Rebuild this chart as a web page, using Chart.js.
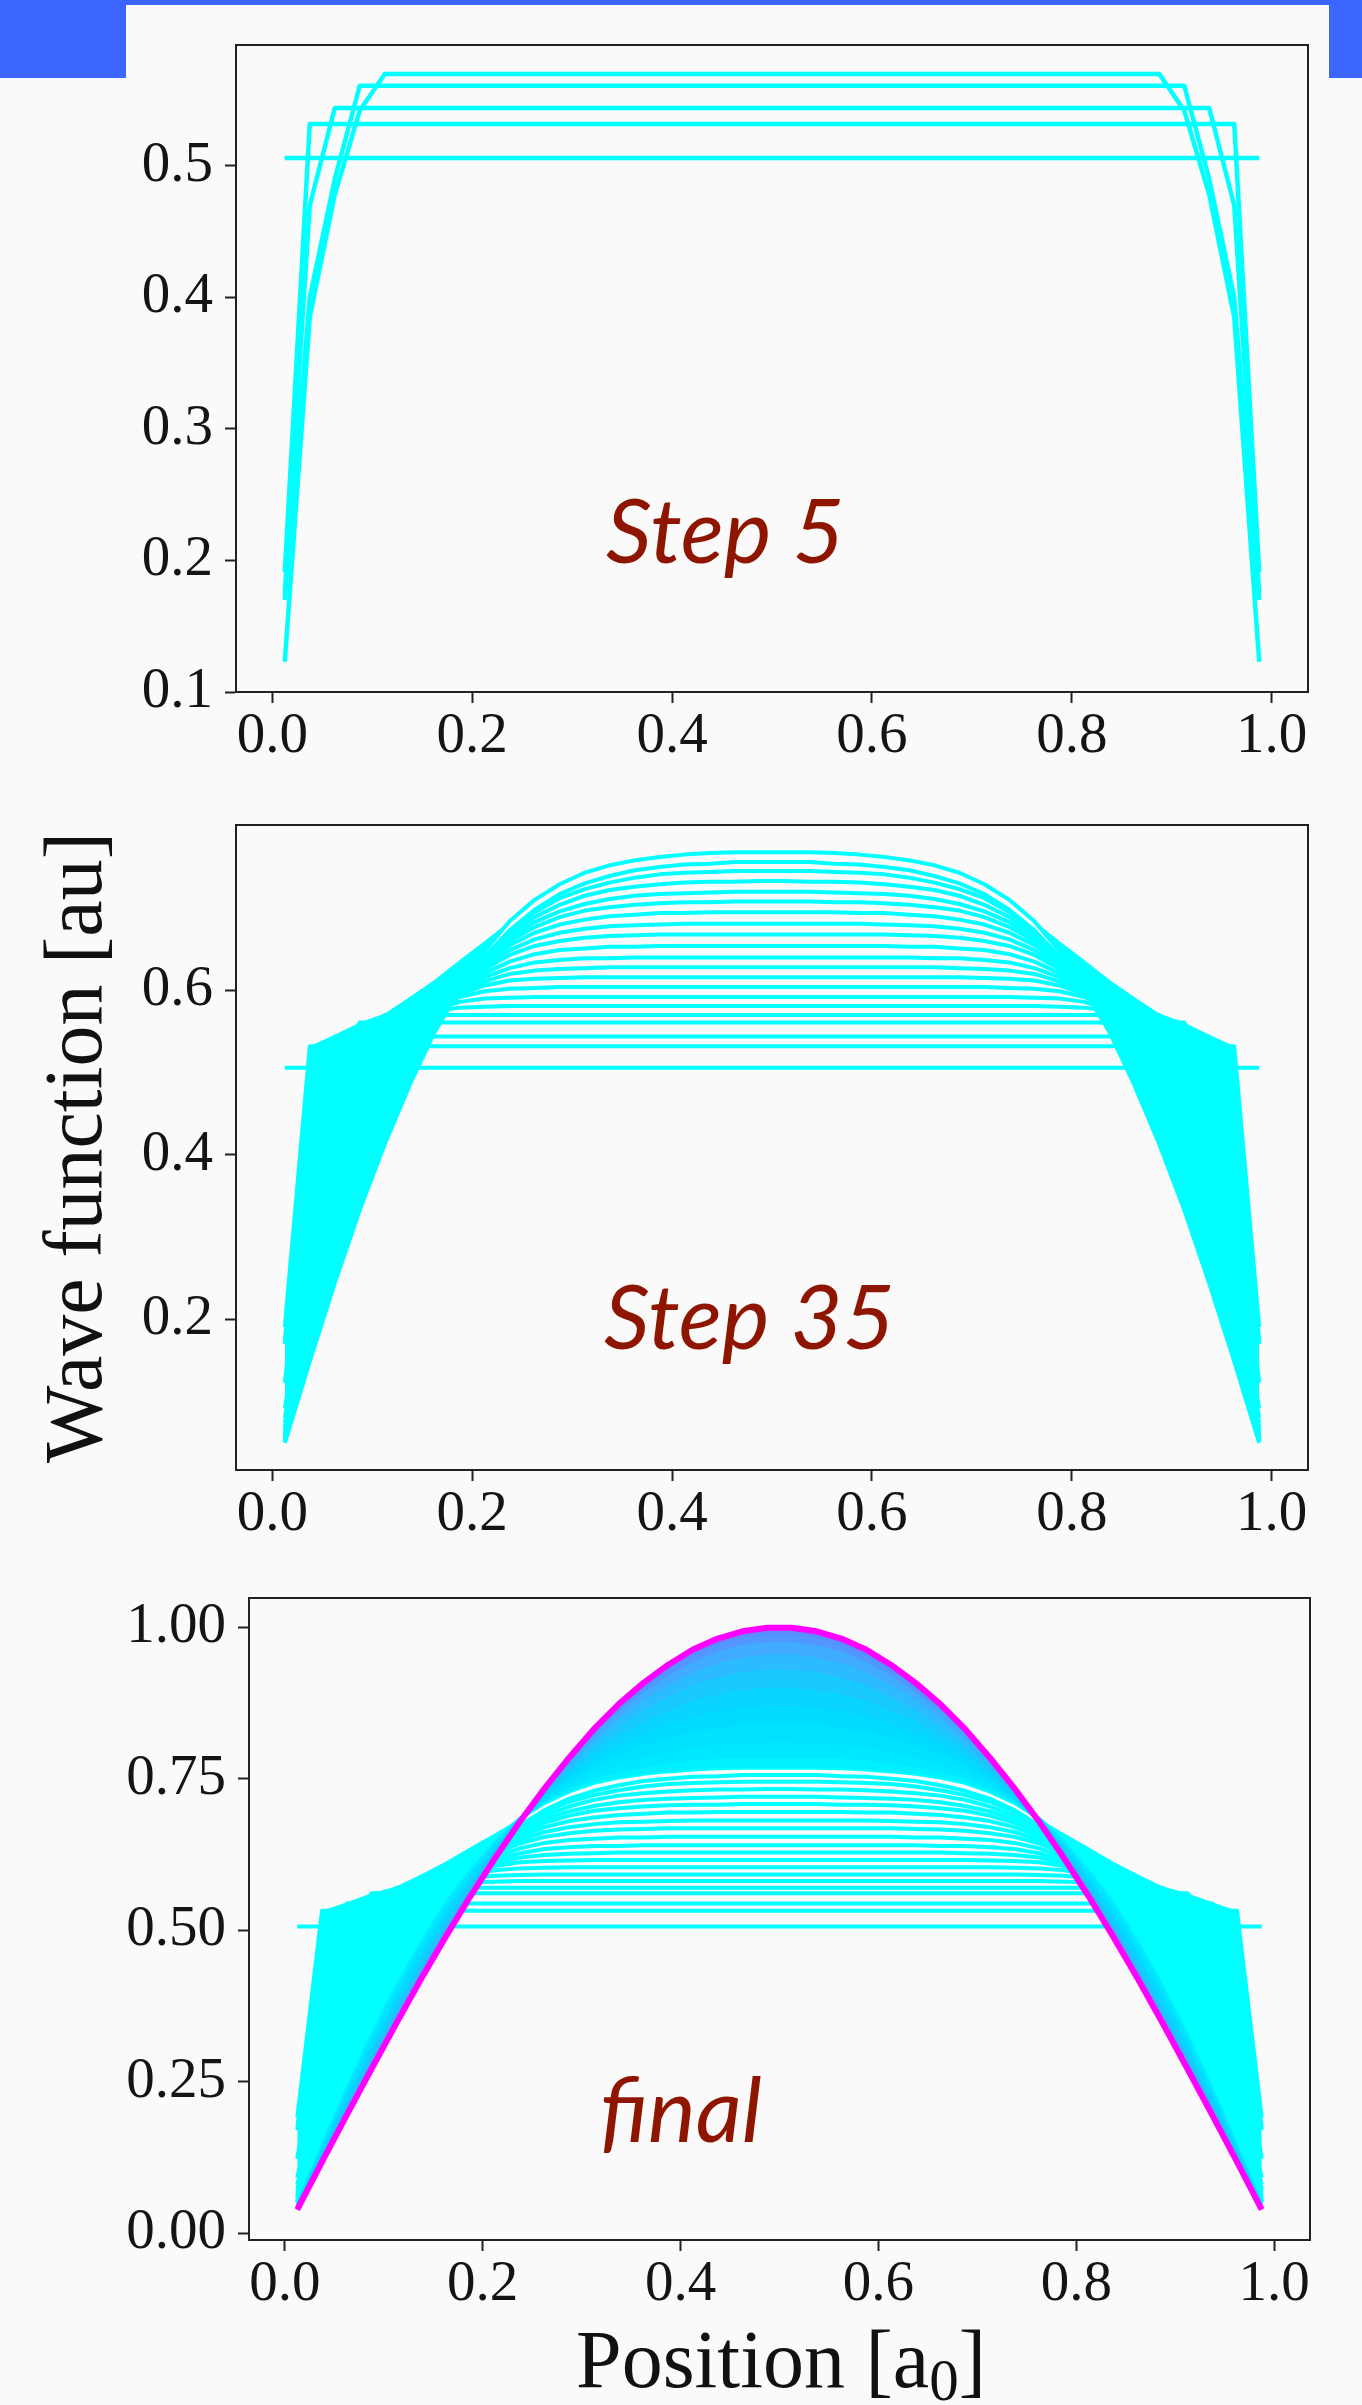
<!DOCTYPE html>
<html>
<head>
<meta charset="utf-8">
<script src="https://cdn.jsdelivr.net/npm/chart.js@4.4.1/dist/chart.umd.min.js"></script>
<style>
  html, body { margin: 0; padding: 0; }
  body { width: 1362px; height: 2405px; background: #fafafa; position: relative; overflow: hidden; }
  .band { position: absolute; background: #3b66ff; }
  canvas { position: absolute; left: 0; display: block; }
  #xlabel { position: absolute; left: 381px; top: 2319px; width: 800px; text-align: center;
            font-family: 'Liberation Serif', serif; font-size: 82px; line-height: 1; color: #111; }
  #xlabel sub { font-size: 0.72em; vertical-align: baseline; position: relative; top: 0.22em; }
</style>
</head>
<body>
<div class="band" style="left:0;top:0;width:1362px;height:5px"></div>
<div class="band" style="left:0;top:0;width:126px;height:78px"></div>
<div class="band" style="left:1329px;top:0;width:33px;height:78px"></div>

<canvas id="step5" width="1362" height="790" style="top:0"></canvas>
<canvas id="step35" width="1362" height="780" style="top:790px"></canvas>
<canvas id="final" width="1362" height="835" style="top:1570px"></canvas>
<div id="xlabel">Position [a<sub>0</sub>]</div>

<script>
// grid positions [a0]
const position = [0.0125, 0.0375, 0.0625, 0.0875, 0.1125, 0.1375, 0.1625, 0.1875, 0.2125, 0.2375,
                  0.2625, 0.2875, 0.3125, 0.3375, 0.3625, 0.3875, 0.4125, 0.4375, 0.4625, 0.4875,
                  0.5125, 0.5375, 0.5625, 0.5875, 0.6125, 0.6375, 0.6625, 0.6875, 0.7125, 0.7375,
                  0.7625, 0.7875, 0.8125, 0.8375, 0.8625, 0.8875, 0.9125, 0.9375, 0.9625, 0.9875];

const xTicks = [0, 0.2, 0.4, 0.6, 0.8, 1.0];
const yTicksStep5 = [0.1, 0.2, 0.3, 0.4, 0.5];
const yTicksStep35 = [0.2, 0.4, 0.6];
const yTicksFinal = [0, 0.25, 0.5, 0.75, 1.0];

// Profiles are symmetric about x = 0.5, only the left half (x = 0.0125 ... 0.4875) is listed.
// steps 0-4
const earlySteps = [
  [0.506, 0.506, 0.506, 0.506, 0.506, 0.506, 0.506, 0.506, 0.506, 0.506, 0.506, 0.506, 0.506, 0.506, 0.506, 0.506, 0.506, 0.506, 0.506, 0.506],
  [0.191, 0.532, 0.532, 0.532, 0.532, 0.532, 0.532, 0.532, 0.532, 0.532, 0.532, 0.532, 0.532, 0.532, 0.532, 0.532, 0.532, 0.532, 0.532, 0.532],
  [0.175, 0.470, 0.544, 0.544, 0.544, 0.544, 0.544, 0.544, 0.544, 0.544, 0.544, 0.544, 0.544, 0.544, 0.544, 0.544, 0.544, 0.544, 0.544, 0.544],
  [0.170, 0.400, 0.490, 0.561, 0.561, 0.561, 0.561, 0.561, 0.561, 0.561, 0.561, 0.561, 0.561, 0.561, 0.561, 0.561, 0.561, 0.561, 0.561, 0.561],
  [0.123, 0.385, 0.478, 0.542, 0.570, 0.570, 0.570, 0.570, 0.570, 0.570, 0.570, 0.570, 0.570, 0.570, 0.570, 0.570, 0.570, 0.570, 0.570, 0.570]
];

// steps ~6 ... 35 (last row is step 35)
const middleSteps = [
  [0.092, 0.261, 0.395, 0.485, 0.538, 0.564, 0.575, 0.579, 0.580, 0.581, 0.581, 0.581, 0.581, 0.581, 0.581, 0.581, 0.581, 0.581, 0.581, 0.581],
  [0.081, 0.234, 0.362, 0.457, 0.520, 0.557, 0.577, 0.586, 0.590, 0.591, 0.592, 0.592, 0.592, 0.592, 0.592, 0.592, 0.592, 0.592, 0.592, 0.592],
  [0.074, 0.216, 0.339, 0.435, 0.505, 0.550, 0.577, 0.592, 0.599, 0.602, 0.603, 0.604, 0.604, 0.604, 0.604, 0.604, 0.604, 0.604, 0.604, 0.604],
  [0.069, 0.202, 0.320, 0.417, 0.491, 0.542, 0.575, 0.595, 0.606, 0.612, 0.614, 0.615, 0.616, 0.616, 0.616, 0.616, 0.616, 0.616, 0.616, 0.616],
  [0.065, 0.192, 0.306, 0.402, 0.478, 0.533, 0.572, 0.597, 0.611, 0.620, 0.624, 0.626, 0.627, 0.628, 0.628, 0.628, 0.628, 0.628, 0.628, 0.628],
  [0.063, 0.184, 0.294, 0.390, 0.467, 0.526, 0.569, 0.598, 0.616, 0.627, 0.634, 0.637, 0.639, 0.639, 0.640, 0.640, 0.640, 0.640, 0.640, 0.640],
  [0.060, 0.177, 0.285, 0.380, 0.459, 0.521, 0.566, 0.599, 0.621, 0.635, 0.644, 0.649, 0.651, 0.653, 0.653, 0.654, 0.654, 0.654, 0.654, 0.654],
  [0.058, 0.172, 0.278, 0.372, 0.452, 0.516, 0.565, 0.601, 0.626, 0.643, 0.654, 0.660, 0.664, 0.666, 0.667, 0.668, 0.668, 0.668, 0.668, 0.668],
  [0.057, 0.168, 0.271, 0.364, 0.445, 0.510, 0.562, 0.601, 0.629, 0.649, 0.662, 0.670, 0.675, 0.678, 0.679, 0.680, 0.681, 0.681, 0.681, 0.681],
  [0.055, 0.164, 0.266, 0.359, 0.439, 0.507, 0.561, 0.602, 0.633, 0.655, 0.670, 0.680, 0.686, 0.690, 0.692, 0.694, 0.694, 0.695, 0.695, 0.695],
  [0.054, 0.161, 0.262, 0.354, 0.434, 0.503, 0.559, 0.602, 0.635, 0.660, 0.677, 0.689, 0.697, 0.701, 0.704, 0.706, 0.707, 0.707, 0.708, 0.708],
  [0.053, 0.158, 0.257, 0.348, 0.429, 0.498, 0.556, 0.602, 0.637, 0.663, 0.683, 0.696, 0.705, 0.711, 0.715, 0.717, 0.718, 0.719, 0.720, 0.720],
  [0.052, 0.155, 0.254, 0.344, 0.425, 0.495, 0.554, 0.602, 0.639, 0.668, 0.689, 0.704, 0.715, 0.722, 0.726, 0.729, 0.731, 0.732, 0.732, 0.733],
  [0.052, 0.153, 0.250, 0.340, 0.421, 0.492, 0.552, 0.602, 0.640, 0.671, 0.695, 0.712, 0.723, 0.731, 0.737, 0.741, 0.743, 0.744, 0.745, 0.745],
  [0.051, 0.151, 0.247, 0.336, 0.417, 0.489, 0.550, 0.600, 0.641, 0.673, 0.698, 0.717, 0.730, 0.739, 0.746, 0.750, 0.753, 0.754, 0.756, 0.756],
  [0.050, 0.149, 0.244, 0.333, 0.413, 0.485, 0.550, 0.602, 0.648, 0.684, 0.710, 0.729, 0.743, 0.752, 0.758, 0.762, 0.765, 0.767, 0.768, 0.768]
];

// upper edge of the dense bundle of curves near the walls
const fanEdge = [0.191, 0.532, 0.546, 0.561, 0.572, 0.592, 0.613, 0.637, 0.660, 0.684, 0.710, 0.729, 0.743, 0.752, 0.758, 0.762, 0.765, 0.767, 0.768, 0.768];

// steps after 35, converging to the ground state
const lateSteps = [
  [0.049, 0.147, 0.240, 0.328, 0.408, 0.480, 0.545, 0.599, 0.646, 0.684, 0.712, 0.733, 0.750, 0.761, 0.769, 0.775, 0.780, 0.783, 0.785, 0.785],
  [0.048, 0.143, 0.235, 0.322, 0.401, 0.473, 0.539, 0.594, 0.643, 0.683, 0.714, 0.739, 0.759, 0.774, 0.785, 0.794, 0.801, 0.806, 0.809, 0.810],
  [0.047, 0.139, 0.229, 0.314, 0.392, 0.465, 0.531, 0.588, 0.639, 0.682, 0.717, 0.746, 0.771, 0.790, 0.805, 0.817, 0.826, 0.833, 0.838, 0.840],
  [0.045, 0.135, 0.222, 0.306, 0.384, 0.456, 0.523, 0.582, 0.635, 0.682, 0.721, 0.754, 0.782, 0.805, 0.824, 0.839, 0.852, 0.861, 0.867, 0.870],
  [0.044, 0.131, 0.216, 0.298, 0.375, 0.447, 0.515, 0.576, 0.632, 0.681, 0.724, 0.761, 0.794, 0.821, 0.844, 0.862, 0.878, 0.889, 0.896, 0.900],
  [0.042, 0.127, 0.210, 0.290, 0.366, 0.439, 0.507, 0.570, 0.628, 0.681, 0.727, 0.768, 0.805, 0.837, 0.863, 0.885, 0.904, 0.917, 0.926, 0.930],
  [0.041, 0.124, 0.204, 0.283, 0.359, 0.432, 0.501, 0.565, 0.625, 0.680, 0.729, 0.774, 0.815, 0.850, 0.880, 0.905, 0.925, 0.940, 0.950, 0.955],
  [0.040, 0.121, 0.200, 0.277, 0.353, 0.426, 0.495, 0.561, 0.622, 0.680, 0.732, 0.779, 0.823, 0.861, 0.893, 0.920, 0.943, 0.960, 0.971, 0.976],
  [0.039, 0.119, 0.197, 0.274, 0.349, 0.422, 0.491, 0.558, 0.620, 0.679, 0.733, 0.783, 0.828, 0.868, 0.902, 0.931, 0.955, 0.972, 0.984, 0.990]
];

const groundState = [0.039, 0.118, 0.195, 0.271, 0.346, 0.419, 0.489, 0.556, 0.619, 0.679, 0.734, 0.785, 0.832, 0.873, 0.908, 0.938, 0.963, 0.981, 0.993, 0.999];

// styles
const cyan = '#00ffff';
const lateColors = ['#00f0ff', '#00e8ff', '#00e2ff', '#00dcff', '#08d4ff', '#18c9ff', '#2cbbff', '#40abff', '#5296ff'];
const axisColor = '#222';
const serif = 'Liberation Serif';

function points(half) {
  const ys = half.concat(half.slice().reverse());
  return position.map((x, i) => ({ x: x, y: ys[i] }));
}

function line(half, color, width, fill, fillColor) {
  return {
    data: points(half),
    borderColor: color,
    borderWidth: width,
    backgroundColor: fillColor || color,
    fill: fill === undefined ? false : fill,
    pointRadius: 0,
    tension: 0,
    borderJoinStyle: 'round'
  };
}

// first entry is drawn at the bottom
function stack(list) {
  list.forEach((d, i) => { d.order = list.length - i; });
  return list;
}

function bundle() {
  const lastIndex = earlySteps.length + middleSteps.length;
  const list = [line(fanEdge, cyan, 0, lastIndex)];
  earlySteps.forEach(h => list.push(line(h, cyan, 4)));
  middleSteps.forEach(h => list.push(line(h, cyan, 4)));
  return list;
}

const frame = {
  id: 'frame',
  afterDatasetsDraw(chart) {
    const a = chart.chartArea, ctx = chart.ctx;
    ctx.save();
    ctx.strokeStyle = axisColor;
    ctx.lineWidth = 2;
    ctx.strokeRect(a.left, a.top, a.right - a.left, a.bottom - a.top);
    ctx.restore();
  }
};

const stepLabel = {
  id: 'stepLabel',
  afterDraw(chart, args, opts) {
    const ctx = chart.ctx;
    ctx.save();
    ctx.font = 'italic 90px Lato';
    ctx.fillStyle = '#8e1600';
    ctx.textBaseline = 'alphabetic';
    ctx.fillText(opts.text, opts.x, opts.y);
    ctx.restore();
  }
};

function makeChart(id, o) {
  const tickFont = { family: serif, size: 57, lineHeight: 1 };
  const grid = { drawOnChartArea: false, tickLength: 11, tickWidth: 2, tickColor: axisColor };
  const border = { display: true, color: axisColor, width: 2 };
  return new Chart(document.getElementById(id), {
    type: 'line',
    data: { datasets: stack(o.datasets) },
    options: {
      responsive: false,
      animation: false,
      events: [],
      layout: { padding: { left: 0, top: o.top, right: o.right, bottom: 0 } },
      plugins: {
        legend: { display: false },
        tooltip: { enabled: false },
        stepLabel: o.label
      },
      scales: {
        x: {
          type: 'linear',
          min: -0.0363,
          max: 1.0363,
          afterBuildTicks: s => { s.ticks = xTicks.map(v => ({ value: v })); },
          afterFit: s => { s.height = o.xHeight; s.paddingLeft = 0; s.paddingRight = 0; },
          ticks: { font: tickFont, color: '#141414', padding: 6, maxRotation: 0, autoSkip: false,
                   callback: v => v.toFixed(1) },
          grid: grid,
          border: border
        },
        y: {
          type: 'linear',
          min: o.yMin,
          max: o.yMax,
          afterBuildTicks: s => { s.ticks = o.yTicks.map(v => ({ value: v })); },
          afterFit: s => { s.width = o.left; s.paddingTop = 0; s.paddingBottom = 0; },
          ticks: { font: tickFont, color: '#141414', padding: 12, autoSkip: false,
                   callback: v => v.toFixed(o.digits) },
          grid: grid,
          border: border,
          title: o.yTitle || { display: false }
        }
      }
    },
    plugins: [frame, stepLabel]
  });
}

// Step 5
makeChart('step5', {
  datasets: earlySteps.map(h => line(h, cyan, 4.5)),
  top: 45, right: 54, left: 236, xHeight: 98,
  yMin: 0.1, yMax: 0.592, yTicks: yTicksStep5, digits: 1,
  label: { text: 'Step 5', x: 606, y: 563 }
});

// Step 35
makeChart('step35', {
  datasets: bundle(),
  top: 35, right: 54, left: 236, xHeight: 100,
  yMin: 0.017, yMax: 0.801, yTicks: yTicksStep35, digits: 1,
  label: { text: 'Step 35', x: 604, y: 559 },
  yTitle: {
    display: true,
    text: 'Wave function [au]',
    color: '#111',
    font: { family: serif, size: 82, lineHeight: 1 },
    padding: { top: 38, bottom: 0 }
  }
});

// final
const finalSets = bundle();
lateSteps.forEach((h, k) => finalSets.push(line(h, lateColors[k], 2.5, finalSets.length - 1)));
finalSets.push(line(groundState, '#ff00ff', 6, finalSets.length - 1, '#6486ff'));

makeChart('final', {
  datasets: finalSets,
  top: 28, right: 52, left: 249, xHeight: 165,
  yMin: -0.011, yMax: 1.048, yTicks: yTicksFinal, digits: 2,
  label: { text: 'final', x: 600, y: 572 }
});
</script>
</body>
</html>
